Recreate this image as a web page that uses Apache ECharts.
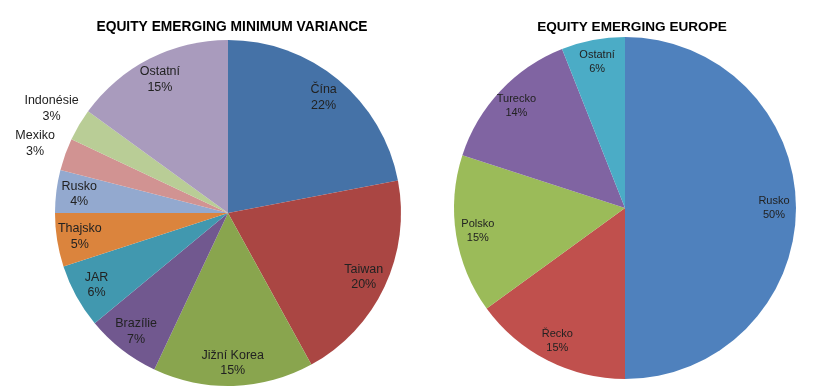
<!DOCTYPE html>
<html><head><meta charset="utf-8">
<script src="https://cdn.jsdelivr.net/npm/echarts@6/dist/echarts.min.js"></script>
<style>html,body{margin:0;padding:0;background:#fff}#c{width:839px;height:390px}</style>
</head><body><div id="c"></div>
<script>
const leftTitle = 'EQUITY EMERGING MINIMUM VARIANCE';
const leftCategories = ['Čína','Taiwan','Jižní Korea','Brazílie','JAR','Thajsko','Rusko','Mexiko','Indonésie','Ostatní'];
const leftValues = [22,20,15,7,6,5,4,3,3,15];
const leftColors = ['#4572A7','#AA4643','#89A54E','#71588F','#4198AF','#DB843D','#93A9CF','#D19392','#B9CD96','#A99BBD'];
const leftOutside = ['Mexiko','Indonésie'];

const rightTitle = 'EQUITY EMERGING EUROPE';
const rightCategories = ['Rusko','Řecko','Polsko','Turecko','Ostatní'];
const rightValues = [50,15,15,14,6];
const rightColors = ['#4F81BD','#C0504D','#9BBB59','#8064A2','#4BACC6'];

const font = 'Liberation Sans, Arial, sans-serif';
const chart = echarts.init(document.getElementById('c'), null, {renderer:'canvas'});

function basePie(center, r, cats, vals, colors){
  return {
    type:'pie', center:center, radius:[0,r], startAngle:90, clockwise:true,
    avoidLabelOverlap:false, silent:true, animation:false,
    itemStyle:{borderWidth:0},
    label:{show:false}, labelLine:{show:false},
    data: cats.map((c,i)=>({name:c, value:vals[i], itemStyle:{color:colors[i]}}))
  };
}
// transparent ring whose mid-radius sets where the labels sit
function labelPie(center, r0, r1, cats, vals, showList, lblSize){
  return {
    type:'pie', center:center, radius:[r0,r1], startAngle:90, clockwise:true,
    avoidLabelOverlap:false, silent:true, animation:false,
    itemStyle:{color:'rgba(0,0,0,0)', borderWidth:0},
    label:{show:true, position:'inside', formatter:'{b}\n{d}%', color:'#222',
      fontFamily:font, fontSize:lblSize, lineHeight:lblSize+3},
    labelLine:{show:false},
    data: cats.map((c,i)=>({name:c, value:vals[i], label:{show: showList(c)}}))
  };
}

chart.setOption({
  animation:false,
  title:[
    {text:leftTitle, left:227, top:15, textAlign:'center',
     textStyle:{fontFamily:font, fontSize:13.8, fontWeight:'bold', color:'#000'}},
    {text:rightTitle, left:627, top:15, textAlign:'center',
     textStyle:{fontFamily:font, fontSize:13.6, fontWeight:'bold', color:'#000'}}
  ],
  series:[
    basePie([228,213],173,leftCategories,leftValues,leftColors),
    labelPie([228,213],140,154,leftCategories,leftValues,c=>leftOutside.indexOf(c)<0,12.5),
    labelPie([228,213],192,212,leftCategories,leftValues,c=>leftOutside.indexOf(c)>=0,12.5),
    basePie([625,208],171,rightCategories,rightValues,rightColors),
    labelPie([625,208],138,154,rightCategories,rightValues,c=>true,11)
  ]
});
</script></body></html>
